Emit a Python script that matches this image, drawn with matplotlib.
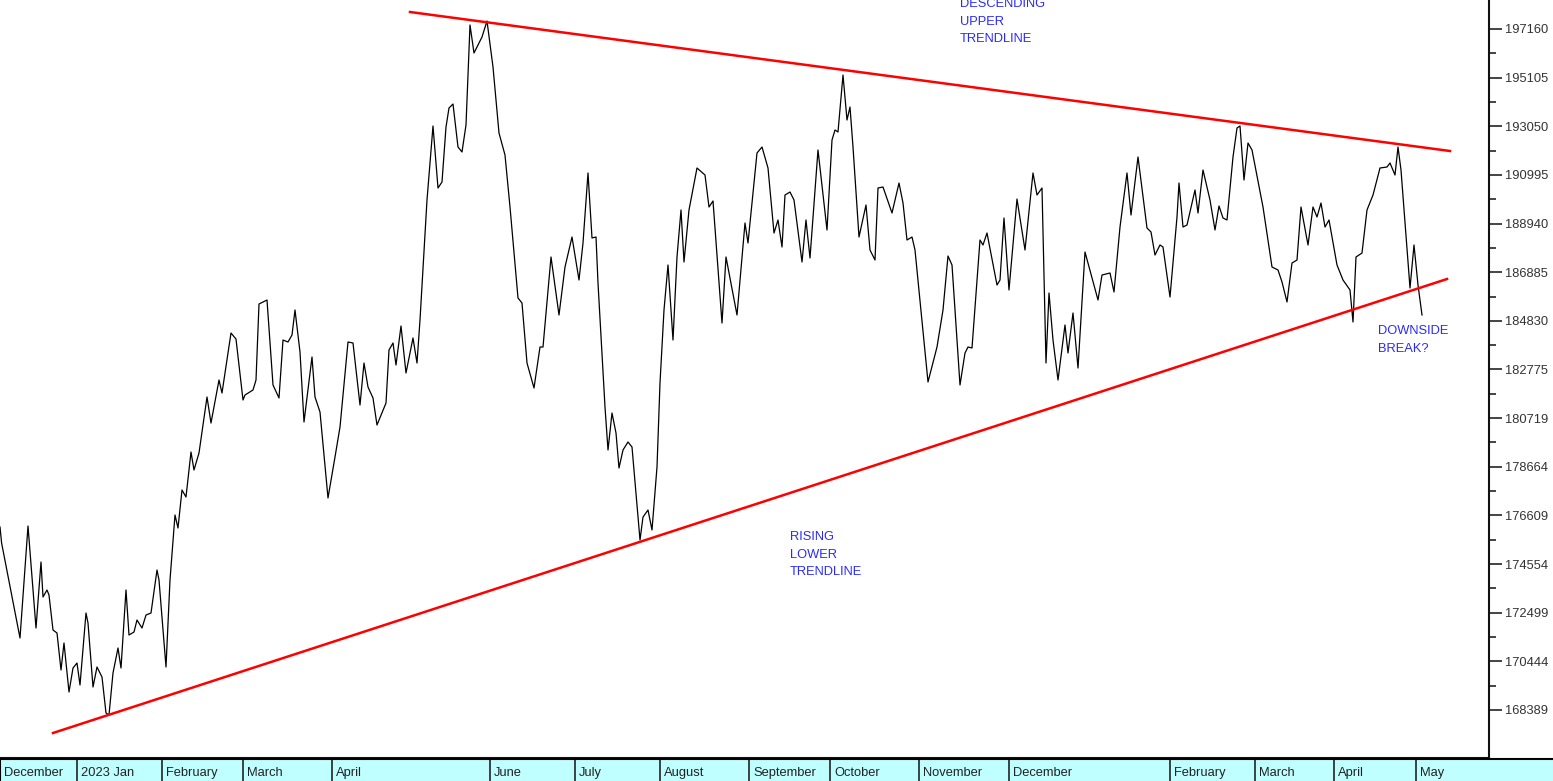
import numpy as np
import matplotlib.pyplot as plt
from matplotlib.ticker import FixedLocator, NullLocator

plt.rcParams['font.family'] = ['Liberation Sans', 'DejaVu Sans']

# trading-day index (x) and closing level (y)
day = [
    0, 0.4, 5, 7, 9, 10.25, 10.75, 11.75, 12.25, 13.25,
    14.25, 15.25, 16, 17.25, 18.25, 19.25, 20, 21.5, 22, 23.25,
    24.25, 25.5, 26.5, 27.25, 28.25, 29.5, 30.25, 31.5, 32.25, 33.5,
    34.25, 35.5, 36.5, 37.75, 39.25, 39.75, 41.5, 42.5, 43.75, 44.5,
    45.5, 46.5, 47.75, 48.5, 49.75, 51.75, 52.75, 54.75, 55.5, 57.75,
    59, 60.75, 61.25, 63.25, 64, 64.75, 66.75, 68.25, 69.75, 70.75,
    72, 73, 73.75, 75, 76, 78, 78.75, 80, 82, 83.75,
    85, 87, 88.25, 90, 91, 92, 93.25, 94.25, 96.5, 97.25,
    98.25, 99, 100.25, 101.5, 103.25, 104.25, 105, 106.75, 108.25, 109.5,
    110.5, 111.5, 112.25, 113.25, 114.5, 115.5, 116.5, 117.5, 118.5, 120.5,
    121.75, 123.25, 124.75, 126.25, 127.5, 129.5, 130.5, 131.75, 133.5, 135,
    135.75, 137.75, 139.75, 141.25, 143, 144.75, 145.75, 147, 148, 149,
    149.5, 151.25, 152, 153, 154, 154.75, 155.75, 157, 158, 160,
    160.75, 162, 163, 164.25, 165, 166, 167, 168.25, 169.25, 170.25,
    171, 172.25, 174.25, 176.25, 177.25, 178.25, 180.5, 181.5, 184.25, 186.25,
    187, 189.25, 190.5, 192, 193.5, 194.5, 195.5, 196.25, 197.5, 198.5,
    200.5, 201.5, 202.5, 204.5, 206.75, 208, 208.75, 209.5, 210.75, 211.75,
    212.5, 213.25, 214.75, 216.5, 217.5, 218.75, 219.5, 220.75, 223, 224.75,
    225.75, 226.75, 228, 228.75, 232, 234.25, 235.75, 237, 238, 240,
    241.25, 242, 243, 245, 245.75, 246.75, 249.25, 250, 251, 252.25,
    254.25, 256.25, 258.25, 259.25, 260.5, 261.5, 262.25, 263.25, 264.5, 266.25,
    267, 268.25, 269.5, 271.25, 274.5, 275.5, 277.5, 278.5, 280, 281.75,
    282.75, 284.5, 286.75, 287.75, 288.75, 290, 290.75, 292.5, 294.25, 294.75,
    295.75, 296.75, 298.75, 299.5, 300.75, 302.5, 303.75, 304.75, 305.75, 306.75,
    308.25, 309.25, 310, 311, 312, 313, 315.75, 318, 319.5, 320.5,
    321.75, 323, 324.25, 325.25, 327, 328.25, 329.25, 330.25, 331.25, 332.25,
    334.25, 335.75, 337.5, 338.25, 339, 340.5, 341.75, 343.25, 345, 346.75,
    347.5, 348.75, 349.5, 350.25, 352.5, 353.5, 354.5, 355.5,
]
close = [
    176119, 175443, 171430, 176162, 171852, 174640, 173162, 173458, 173246, 171768,
    171641, 170078, 171218, 169148, 170162, 170373, 169444, 172486, 172063, 169359,
    170204, 169782, 168261, 168176, 169951, 171007, 170162, 173458, 171556, 171683,
    172190, 171852, 172401, 172486, 174302, 173880, 170204, 173880, 176626, 176077,
    177683, 177387, 179288, 178528, 179246, 181612, 180513, 182330, 181781, 184316,
    184062, 181485, 181696, 181908, 182330, 185541, 185710, 182119, 181570, 184020,
    183936, 184231, 185288, 183513, 180556, 183302, 181612, 180978, 177345, 179077,
    180344, 183936, 183893, 181274, 183048, 182034, 181570, 180429, 181358, 183598,
    183893, 182964, 184612, 182626, 184105, 183048, 184865, 189935, 193062, 190442,
    190696, 193019, 193822, 193991, 192174, 191963, 193104, 197329, 196146, 196822,
    197498, 195554, 192766, 191836, 189639, 185795, 185583, 183048, 181992, 183724,
    183724, 187527, 185076, 187104, 188372, 186555, 188118, 191076, 188330, 188372,
    186428, 181189, 179373, 180936, 180091, 178612, 179373, 179711, 179499, 175570,
    176542, 176838, 175993, 178654, 182203, 185288, 187189, 184020, 187527, 189513,
    187316, 189513, 191287, 190991, 189639, 189893, 184738, 187527, 185076, 188963,
    188118, 191921, 192174, 191287, 188541, 189090, 187949, 190146, 190273, 189935,
    187316, 189090, 187485, 192048, 188668, 192470, 192893, 192808, 195216, 193315,
    193864, 192174, 188372, 189724, 187823, 187400, 190442, 190484, 189386, 190653,
    189808, 188245, 188372, 187823, 182246, 183724, 185288, 187569, 187189, 182119,
    183471, 183724, 183682, 188245, 188034, 188541, 186344, 186555, 189175, 186133,
    189977, 187823, 191076, 190146, 190442, 183048, 186006, 184020, 182330, 184654,
    183471, 185161, 182837, 187738, 185710, 186766, 186851, 186048, 188794, 191076,
    189301, 191752, 188752, 188583, 187611, 188034, 187949, 185837, 189217, 190653,
    188794, 188879, 190358, 189386, 191203, 189935, 188668, 189682, 189175, 189090,
    191752, 192977, 193062, 190780, 192343, 192048, 189639, 187104, 186978, 186471,
    185626, 187273, 187400, 189639, 188034, 189639, 189217, 189808, 188794, 189090,
    187189, 186555, 186133, 184781, 187527, 187696, 189513, 190146, 191287, 191329,
    191498, 190991, 192174, 191203, 186217, 188034, 186344, 185076,
]

# trendline end points (day, level)
upper_trend = ([102.5, 362.5], [197878, 192005])
lower_trend = ([13.25, 361.75], [167416, 186597])

y_ticks = [197160, 195105, 193050, 190995, 188940, 186885, 184830, 182775,
           180719, 178664, 176609, 174554, 172499, 170444, 168389]

month_names = ['December', '2023 Jan', 'February', 'March', 'April', 'June',
               'July', 'August', 'September', 'October', 'November',
               'December', 'February', 'March', 'April', 'May']
month_start = [0, 19.25, 40.5, 60.75, 83, 122.5, 143.75, 165, 187.25,
               207.5, 229.75, 252.25, 292.5, 313.75, 333.5, 354]

notes = [
    ('DESCENDING\nUPPER\nTRENDLINE', 240, 198216),
    ('RISING\nLOWER\nTRENDLINE', 197.5, 175697),
    ('DOWNSIDE\nBREAK?', 344.5, 184400),
]

W, H = 1553, 781
fig = plt.figure(figsize=(W / 100, H / 100), dpi=100)
ax = fig.add_axes([0, 23 / H, 1489 / W, 758 / H])

ax.plot(day, close, color='black', linewidth=0.9)
ax.plot(*upper_trend, color='#ff0000', linewidth=1.8)
ax.plot(*lower_trend, color='#ff0000', linewidth=1.8)

ax.set_xlim(0, 1489 / 4)
ax.set_ylim(166360, 198385)

for s in ['top', 'left']:
    ax.spines[s].set_visible(False)
for s in ['right', 'bottom']:
    ax.spines[s].set_linewidth(1.5)
    ax.spines[s].set_color('#111111')

ax.xaxis.set_major_locator(NullLocator())
ax.yaxis.tick_right()
ax.yaxis.set_major_locator(FixedLocator(y_ticks))
mids = [(a + b) / 2 for a, b in zip(y_ticks[:-1], y_ticks[1:])]
ax.yaxis.set_minor_locator(FixedLocator(mids))
ax.set_yticklabels([str(v) for v in y_ticks])
ax.tick_params(axis='y', which='major', length=9.5, width=1.1, pad=2,
               labelsize=9.3, labelcolor='#333333', color='#111111')
ax.tick_params(axis='y', which='minor', length=5, width=1.1, color='#111111')

for label, x, y in notes:
    for i, line in enumerate(label.split('\n')):
        ax.annotate(line, (x, y), xytext=(0, -12.6 * i), textcoords='offset points',
                    ha='left', va='center', fontsize=9.3, color='#2a2aff')

# month strip along the bottom
strip = fig.add_axes([0, 0, 1, 22 / H])
strip.set_facecolor('#c0ffff')
strip.set_xlim(0, W / 4)
strip.set_ylim(0, 1)
strip.set_xticks([])
strip.set_yticks([])
for s in ['bottom', 'right']:
    strip.spines[s].set_visible(False)
strip.spines['top'].set_linewidth(1.5)
strip.spines['left'].set_linewidth(1.5)
for name, x0 in zip(month_names, month_start):
    strip.axvline(x0, color='#222222', linewidth=1.2)
    strip.text(x0 + 1, 0.38, name, ha='left', va='center', fontsize=9.3,
               color='#222222')

fig.savefig('out.png', dpi=100)
